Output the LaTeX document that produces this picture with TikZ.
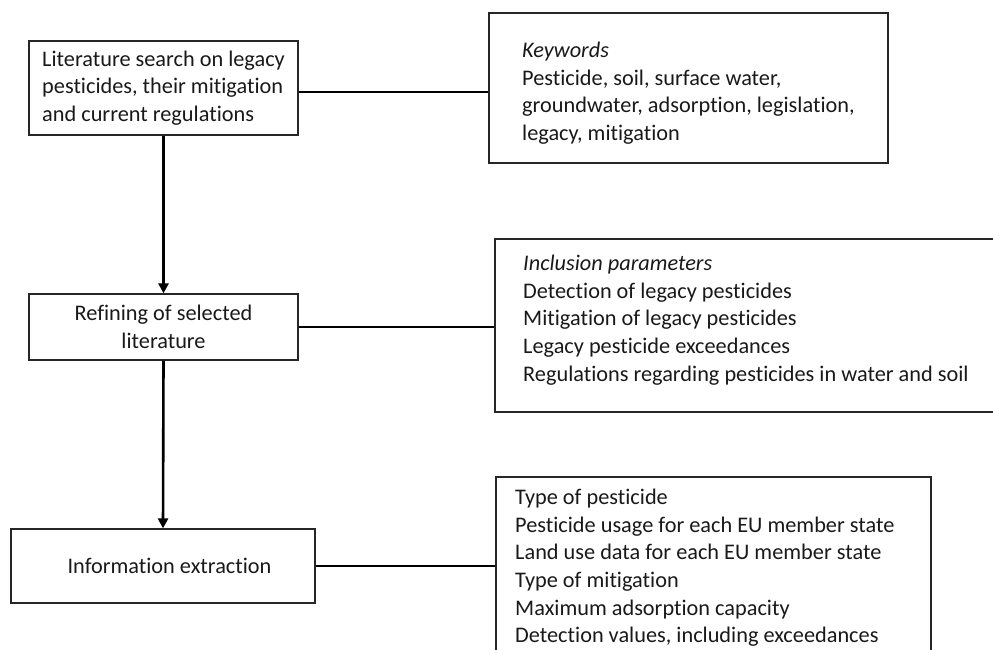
\documentclass[tikz,border=0pt]{standalone}
\usepackage{fontspec}
\setmainfont[Ligatures={NoCommon}]{Carlito}
\usetikzlibrary{calc,arrows.meta}
\begin{document}
\begin{tikzpicture}[x=1pt,y=-1pt,
  every node/.style={font=\fontsize{22.3}{27.6}\selectfont, text=black!90},
  stepbox/.style={draw=black!85, line width=1.3pt, inner sep=0pt},
  txt/.style={anchor=north west, inner sep=0pt, align=left},
  link/.style={draw=black, line width=2pt},
  flow/.style={draw=black, line width=2.6pt, -{Triangle[length=10pt,width=10pt]}}]
\useasboundingbox (0,0) rectangle (993,649);
\clip (0,0) rectangle (993,649);
% left column
\node[stepbox, minimum width=269pt, minimum height=94pt, align=left] (b1) at (163.5,88) {Literature search on legacy\\pesticides, their mitigation\\and current regulations};
\node[stepbox, minimum width=269pt, minimum height=66pt, align=center] (b2) at (163.5,327) {Refining of selected\\literature};
\node[stepbox, minimum width=304pt, minimum height=74pt] (b3) at (163,566) {\hspace*{13pt}Information extraction};
% right column boxes
\node[stepbox, minimum width=399pt, minimum height=150pt] (kw) at (688.5,88) {};
\node[stepbox, minimum width=520pt, minimum height=173pt] (inc) at (755,325.5) {};
\node[stepbox, minimum width=435pt, minimum height=200pt] (ext) at (713.5,577) {};
% texts
\node[txt] (kwt) at (522,42) {\textit{Keywords}\\Pesticide, soil, surface water,\\groundwater, adsorption, legislation,\\legacy, mitigation};
\node[txt] (inct) at (523,255) {\textit{Inclusion parameters}\\Detection of legacy pesticides\\Mitigation of legacy pesticides\\Legacy pesticide exceedances\\Regulations regarding pesticides in water and soil};
\node[txt] (extt) at (515,489) {Type of pesticide\\Pesticide usage for each EU member state\\Land use data for each EU member state\\Type of mitigation\\Maximum adsorption capacity\\Detection values, including exceedances};
% connectors
\draw[link] ($(b1.east)+(0,4)$) -- ($(kw.west)+(0,4)$);
\draw[link] (b2.east) -- (inc.west |- b2.east);
\draw[link] (b3.east) -- (ext.west |- b3.east);
\draw[flow] (b1.south) -- (b2.north);
\draw[flow] (b2.south) -- (b3.north);
\end{tikzpicture}
\end{document}
